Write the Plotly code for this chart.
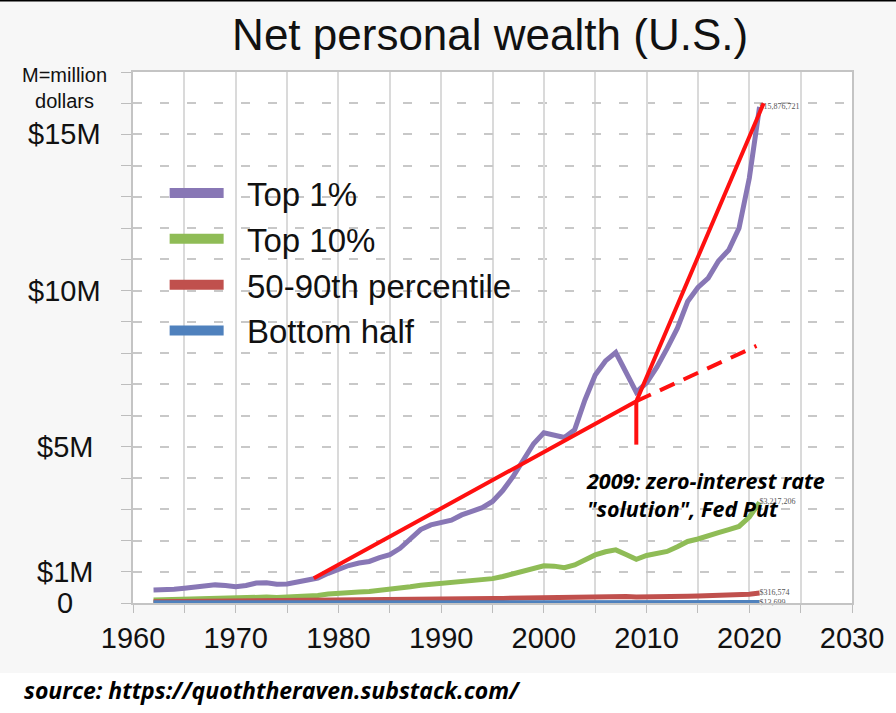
import plotly.graph_objects as go

# values in millions of dollars, one per year
years = list(range(1962, 2022))

top_1 = [0.42, 0.42, 0.44, 0.47, 0.50, 0.55, 0.58, 0.56, 0.52, 0.56,
         0.64, 0.65, 0.60, 0.61, 0.66, 0.72, 0.80, 0.95, 1.08, 1.20,
         1.28, 1.33, 1.45, 1.55, 1.75, 2.05, 2.35, 2.50, 2.58, 2.65,
         2.82, 2.95, 3.05, 3.25, 3.60, 4.05, 4.60, 5.10, 5.45, 5.38,
         5.30, 5.55, 6.50, 7.30, 7.75, 8.02, 7.40, 6.75, 7.05, 7.55,
         8.15, 8.80, 9.65, 10.10, 10.40, 10.95, 11.30, 12.00, 13.60, 15.88]

top_10 = [0.10, 0.11, 0.12, 0.13, 0.14, 0.15, 0.16, 0.16, 0.16, 0.17,
          0.19, 0.19, 0.18, 0.19, 0.20, 0.21, 0.24, 0.29, 0.32, 0.34,
          0.35, 0.37, 0.40, 0.43, 0.47, 0.52, 0.57, 0.60, 0.62, 0.63,
          0.66, 0.69, 0.73, 0.78, 0.85, 0.93, 1.03, 1.12, 1.19, 1.18,
          1.13, 1.22, 1.38, 1.54, 1.64, 1.70, 1.55, 1.40, 1.52, 1.60,
          1.65, 1.80, 1.97, 2.05, 2.13, 2.25, 2.35, 2.45, 2.75, 3.22]

pct_50_90 = [0.040, 0.042, 0.044, 0.046, 0.048, 0.051, 0.054, 0.055, 0.056, 0.058,
             0.061, 0.063, 0.062, 0.063, 0.066, 0.069, 0.074, 0.080, 0.085, 0.088,
             0.090, 0.093, 0.097, 0.101, 0.106, 0.112, 0.118, 0.123, 0.126, 0.128,
             0.131, 0.134, 0.137, 0.141, 0.147, 0.154, 0.162, 0.170, 0.176, 0.178,
             0.180, 0.186, 0.196, 0.206, 0.214, 0.218, 0.205, 0.190, 0.188, 0.190,
             0.195, 0.205, 0.215, 0.222, 0.230, 0.240, 0.250, 0.260, 0.280, 0.317]

bottom_half = [0.006, 0.006, 0.006, 0.007, 0.007, 0.007, 0.008, 0.008, 0.008, 0.008,
               0.009, 0.009, 0.009, 0.009, 0.009, 0.010, 0.010, 0.010, 0.010, 0.010,
               0.010, 0.010, 0.010, 0.010, 0.011, 0.011, 0.011, 0.011, 0.011, 0.011,
               0.011, 0.011, 0.011, 0.011, 0.011, 0.012, 0.012, 0.012, 0.012, 0.012,
               0.012, 0.012, 0.012, 0.012, 0.012, 0.012, 0.010, 0.008, 0.007, 0.007,
               0.007, 0.008, 0.008, 0.009, 0.010, 0.010, 0.011, 0.012, 0.013, 0.0137]

series_names = ["Top 1%", "Top 10%", "50-90th percentile", "Bottom half"]
series_colors = ["#8877b5", "#8fbc56", "#c0504d", "#4f81bd"]
end_labels = ["$15,876,721", "$3,217,206", "$316,574", "$13,699"]

# red trend lines drawn over the chart
trend_x = [1977.6, 2009.0, 2021.4]
trend_y = [0.79, 6.46, 16.0]
dashed_x = [2009.0, 2020.7]
dashed_y = [6.46, 8.23]
marker_x = [2009.0, 2009.0]
marker_y = [6.46, 5.07]

y_ticks = [0, 1, 5, 10, 15]
y_tick_text = ["0", "$1M", "$5M", "$10M", "$15M"]
x_ticks = [1960, 1970, 1980, 1990, 2000, 2010, 2020, 2030]

fig = go.Figure()

all_series = [top_1, top_10, pct_50_90, bottom_half]
for name, vals, col, lab in zip(series_names, all_series, series_colors, end_labels):
    txt = [""] * (len(vals) - 1) + [lab]
    fig.add_trace(go.Scatter(x=years, y=vals, mode="lines+text", text=txt,
                             textposition="middle right",
                             textfont=dict(size=8, color="#555555", family="Liberation Serif"),
                             line=dict(color=col, width=5), showlegend=False,
                             cliponaxis=False))

# legend-only entries with thicker swatches
for i, (name, col) in enumerate(zip(series_names, series_colors)):
    fig.add_trace(go.Scatter(x=[None], y=[None], mode="lines",
                             name="\u00a0\u00a0" + name, legendgroup=str(i),
                             line=dict(color=col, width=12)))

fig.add_trace(go.Scatter(x=trend_x, y=trend_y, mode="lines",
                         line=dict(color="#ff1010", width=4), showlegend=False))
fig.add_trace(go.Scatter(x=dashed_x, y=dashed_y, mode="lines",
                         line=dict(color="#ff1010", width=4, dash="16px,10px"),
                         showlegend=False))
fig.add_trace(go.Scatter(x=marker_x, y=marker_y, mode="lines",
                         line=dict(color="#ff1010", width=4), showlegend=False))

fig.update_layout(
    width=896, height=713,
    margin=dict(l=133, r=44, t=72, b=110),
    paper_bgcolor="#f7f7f7",
    plot_bgcolor="white",
    font=dict(family="Liberation Sans, Arial", color="#111111"),
    title=dict(text="Net personal wealth (U.S.)", x=0.547, xanchor="center",
               y=0.951, yanchor="middle",
               font=dict(size=44, color="#111111")),
    legend=dict(x=0.044, y=0.825, xanchor="left", yanchor="top",
                bgcolor="rgba(0,0,0,0)", font=dict(size=33),
                itemwidth=54, tracegroupgap=0),
)

fig.update_xaxes(range=[1960, 2030], tickvals=x_ticks,
                 tickfont=dict(size=29), ticks="outside", ticklen=8,
                 tickcolor="#bdbdbd", showgrid=True, gridcolor="#dadada",
                 gridwidth=1.5, showline=True, linecolor="#c4c4c4",
                 linewidth=1.5, mirror=True, zeroline=False,
                 minor=dict(dtick=5, showgrid=True, gridcolor="#dadada",
                            gridwidth=1.5, ticks="outside", ticklen=8,
                            tickcolor="#bdbdbd"))

fig.update_yaxes(range=[0, 17], tickvals=y_ticks, showticklabels=False,
                 ticks="outside", ticklen=10,
                 tickcolor="#bdbdbd", showgrid=True, gridcolor="#c8c8c8",
                 griddash="9px,18px", gridwidth=1.5, showline=True,
                 linecolor="#c4c4c4", linewidth=1.5, mirror=True,
                 zeroline=False,
                 minor=dict(dtick=1, showgrid=True, gridcolor="#c8c8c8",
                            griddash="9px,18px", gridwidth=1.5,
                            ticks="outside", ticklen=10, tickcolor="#bdbdbd"))

# y labels are centred in the left margin, as in the original
for v, t in zip(y_ticks, y_tick_text):
    fig.add_annotation(text=t, xref="paper", yref="y", x=-0.0946, y=v,
                       xanchor="center", yanchor="middle", showarrow=False,
                       font=dict(size=29))

# white strip under the chart for the source line
fig.add_shape(type="rect", xref="paper", yref="paper", x0=-0.2, x1=1.1,
              y0=-0.21, y1=-0.132, fillcolor="white", line_width=0, layer="below")
fig.add_shape(type="line", xref="paper", yref="paper", x0=-0.2, x1=1.1,
              y0=1.1345, y1=1.1345, line=dict(color="black", width=2))

fig.add_annotation(text="M=million<br>dollars", xref="paper", yref="paper",
                   x=-0.0946, y=0.97, xanchor="center", yanchor="middle",
                   showarrow=False, font=dict(size=20))
fig.add_annotation(text="<b><i>2009: zero-interest rate<br>\"solution\", Fed Put</i></b>",
                   xref="paper", yref="paper", x=0.627, y=0.205,
                   xanchor="left", yanchor="middle", align="left",
                   showarrow=False,
                   font=dict(size=21.5, family="Open Sans", color="black"))
fig.add_annotation(text="<b><i>source: https://quoththeraven.substack.com/</i></b>",
                   xref="paper", yref="paper", x=-0.154, y=-0.164,
                   xanchor="left", yanchor="middle", showarrow=False,
                   font=dict(size=23, family="Open Sans", color="black"))

fig.write_html("out.html", config={"displayModeBar": False},
               post_script="document.body.style.margin='0px';")
